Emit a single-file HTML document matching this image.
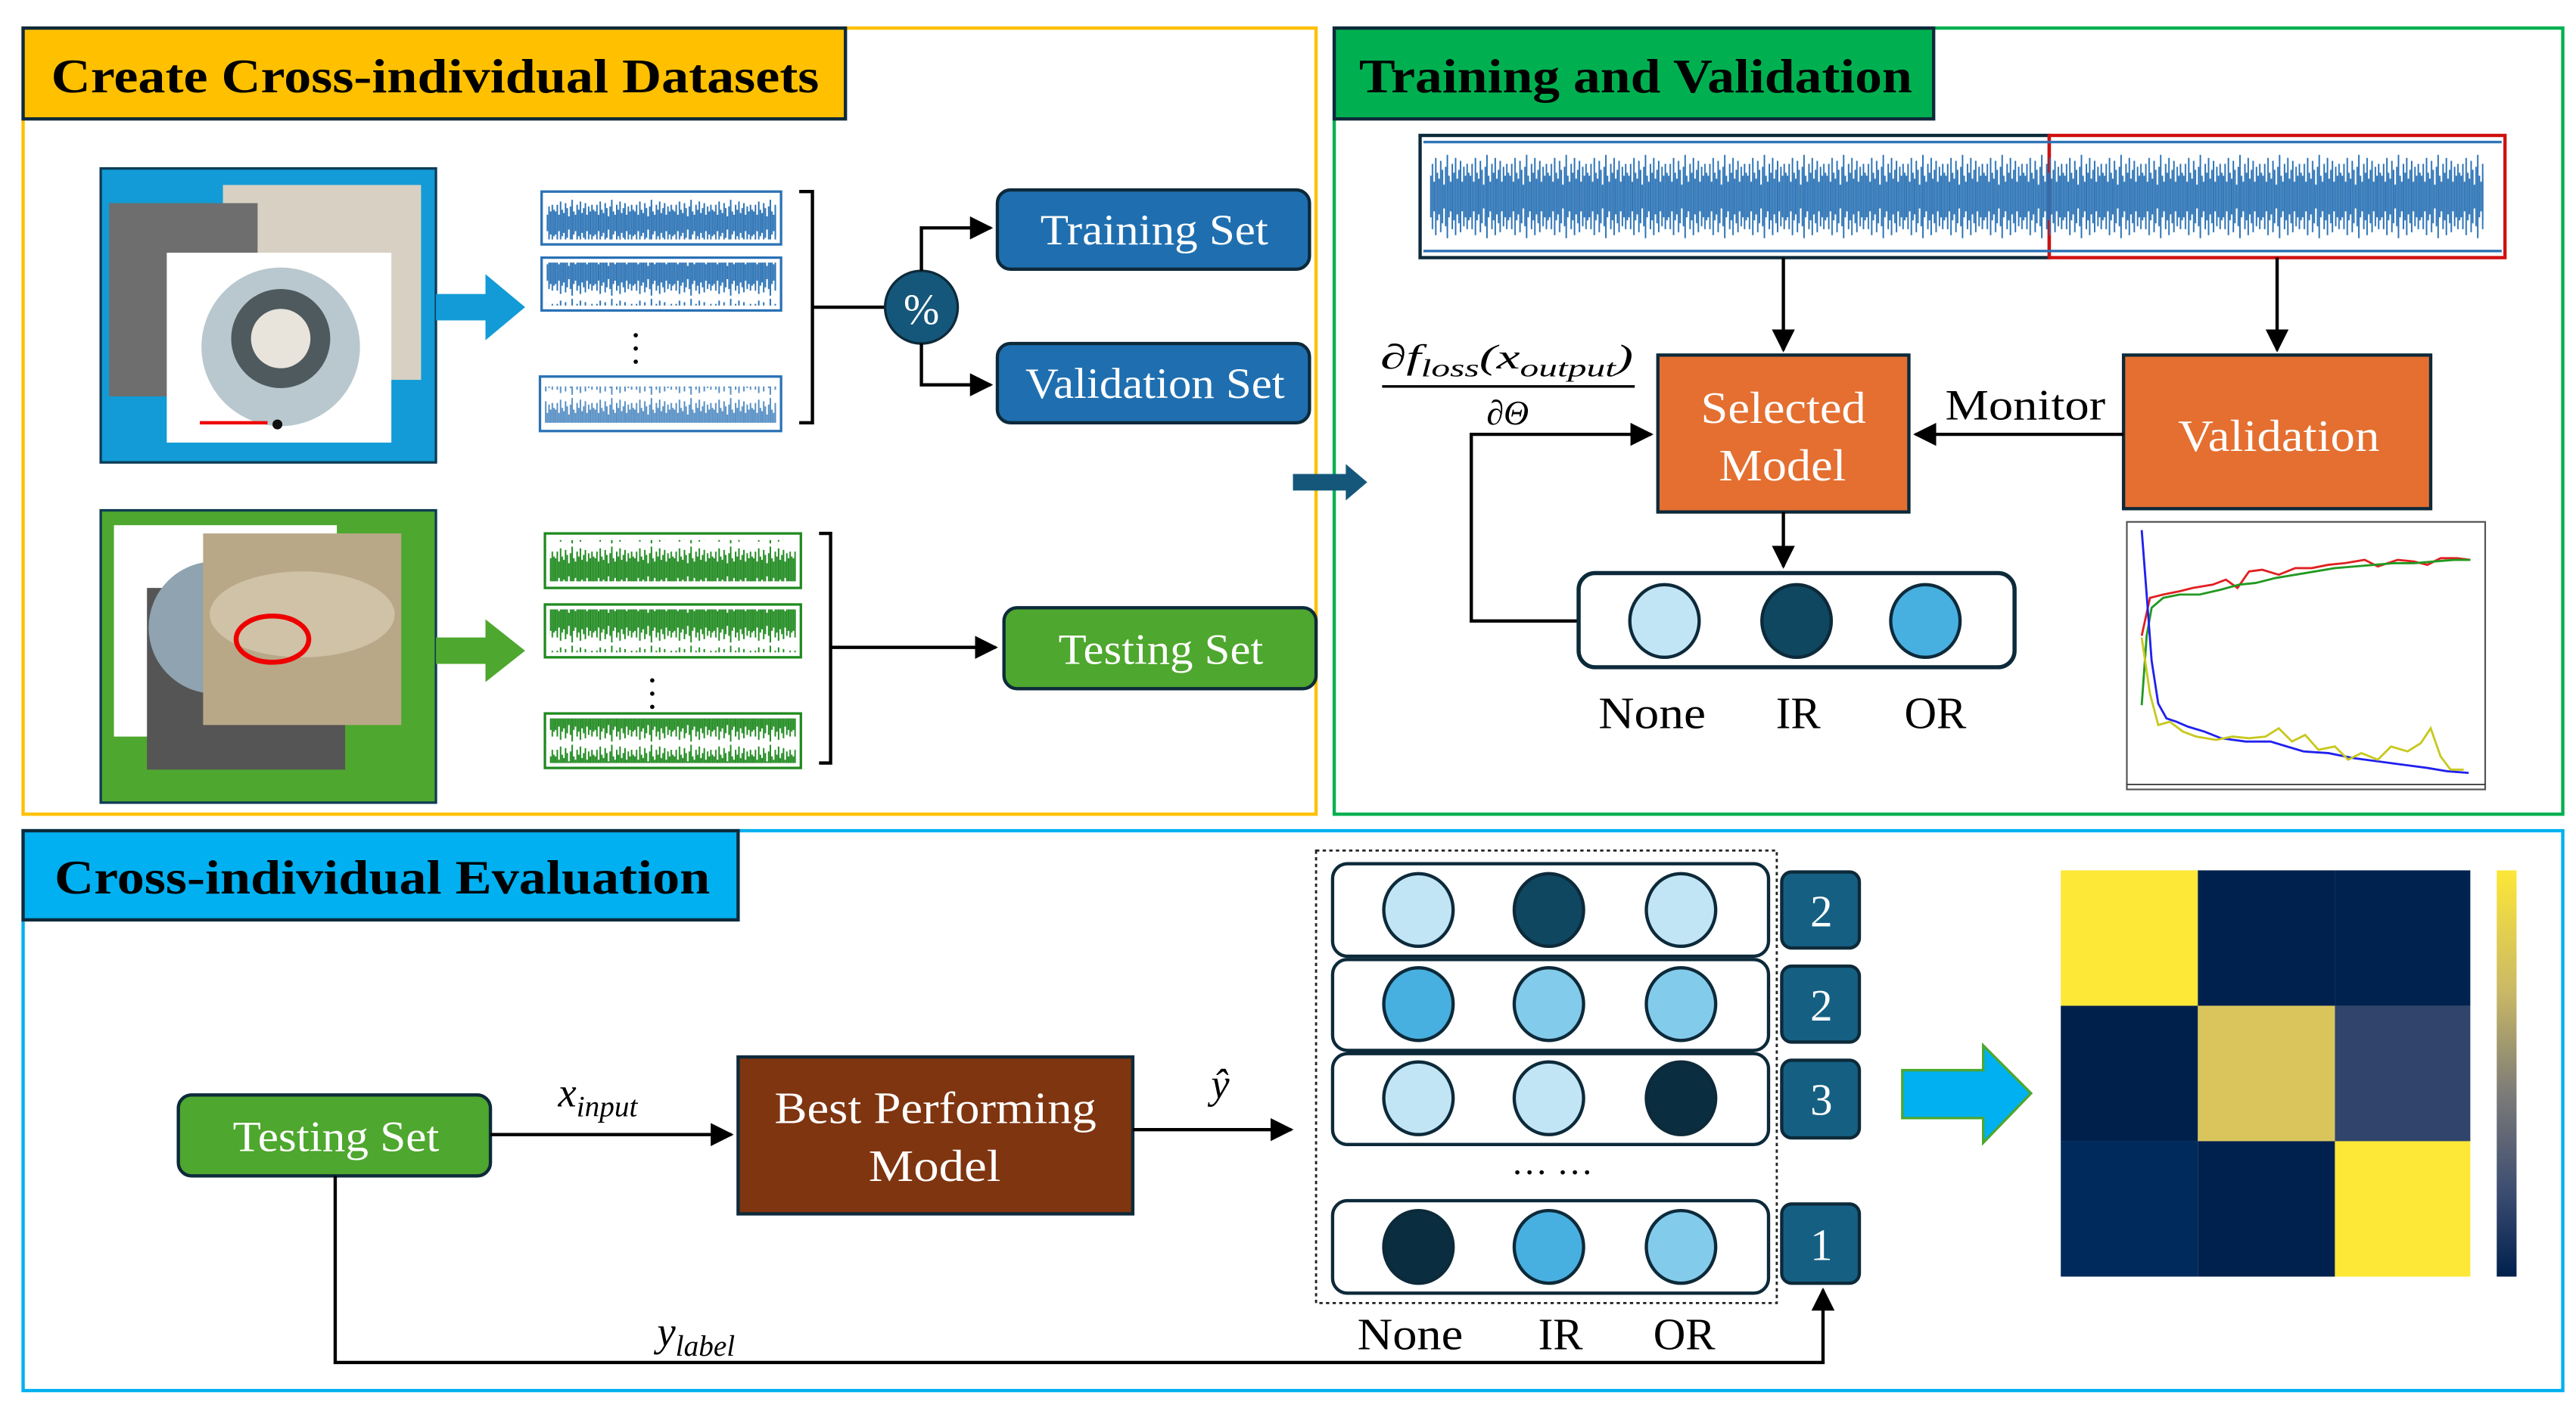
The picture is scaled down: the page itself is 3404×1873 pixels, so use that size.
<!DOCTYPE html>
<html><head><meta charset="utf-8"><style>
html,body{margin:0;padding:0;background:#fff;}
svg{display:block;}
text{font-family:"Liberation Serif","Times New Roman","DejaVu Serif",serif;}
</style></head><body>
<svg width="3404" height="1873" viewBox="0 0 1560 858" preserveAspectRatio="none" xmlns="http://www.w3.org/2000/svg" font-family="Liberation Serif, serif">
<defs>
<pattern id="wb" width="24" height="30" patternUnits="userSpaceOnUse">
<path d="M0.5 8V22M1.5 4V26M2.5 10V20M3.5 2V28M4.5 7V23M5.5 9V21M6.5 3V27M7.5 6V24M8.5 11V19M9.5 5V25M10.5 1V29M11.5 8V22M12.5 10V20M13.5 4V26M14.5 7V23M15.5 2V28M16.5 9V21M17.5 6V24M18.5 3V27M19.5 10V20M20.5 5V25M21.5 8V22M22.5 4V26M23.5 7V23" stroke="#2a72b5" stroke-width="0.9"/>
</pattern>
<pattern id="wg" width="24" height="30" patternUnits="userSpaceOnUse">
<path d="M0.5 8V22M1.5 4V26M2.5 10V20M3.5 2V28M4.5 7V23M5.5 9V21M6.5 3V27M7.5 6V24M8.5 11V19M9.5 5V25M10.5 1V29M11.5 8V22M12.5 10V20M13.5 4V26M14.5 7V23M15.5 2V28M16.5 9V21M17.5 6V24M18.5 3V27M19.5 10V20M20.5 5V25M21.5 8V22M22.5 4V26M23.5 7V23" stroke="#1e8a1e" stroke-width="0.9"/>
</pattern>
<linearGradient id="cb" x1="0" y1="0" x2="0" y2="1">
<stop offset="0" stop-color="#fde737"/><stop offset="0.3" stop-color="#c9b866"/><stop offset="0.55" stop-color="#7c7b78"/><stop offset="0.8" stop-color="#3a4b70"/><stop offset="1" stop-color="#00204d"/>
</linearGradient>
<marker id="ah" viewBox="0 0 10 10" refX="9" refY="5" markerWidth="7" markerHeight="7" orient="auto"><path d="M0 0L10 5L0 10z" fill="#000"/></marker>
</defs>

<rect x="14" y="17" width="783" height="476" fill="none" stroke="#ffc000" stroke-width="2"/>
<rect x="808" y="17" width="744" height="476" fill="none" stroke="#00b050" stroke-width="2"/>
<rect x="14" y="503" width="1538" height="339" fill="none" stroke="#00b0f0" stroke-width="2"/>

<rect x="14" y="17" width="498" height="55" fill="#ffc000" stroke="#0d2a3a" stroke-width="2"/>
<text x="31" y="56" font-size="29" font-weight="bold" textLength="465" lengthAdjust="spacingAndGlyphs">Create Cross-individual Datasets</text>
<rect x="808" y="17" width="363" height="55" fill="#00b050" stroke="#0d2a3a" stroke-width="2"/>
<text x="823" y="56" font-size="29" font-weight="bold" textLength="335" lengthAdjust="spacingAndGlyphs">Training and Validation</text>
<rect x="14" y="503" width="433" height="54" fill="#00b0f0" stroke="#0d2a3a" stroke-width="2"/>
<text x="33" y="541" font-size="29" font-weight="bold" textLength="397" lengthAdjust="spacingAndGlyphs">Cross-individual Evaluation</text>

<rect x="61" y="102" width="203" height="178" fill="#129bd6" stroke="#0d3b55" stroke-width="1.5"/>
<rect x="135" y="112" width="120" height="118" fill="#d8d0c2"/>
<rect x="66" y="123" width="90" height="117" fill="#6e6e6e"/>
<rect x="101" y="153" width="136" height="115" fill="#fff"/>
<circle cx="170" cy="210" r="48" fill="#b9c8cf"/>
<circle cx="170" cy="205" r="30" fill="#4e5a5e"/>
<circle cx="170" cy="205" r="18" fill="#e8e4dc"/>
<path d="M121 256H162" stroke="#e00" stroke-width="2"/>
<circle cx="168" cy="257" r="3" fill="#111"/>
<path d="M264 178H294V166L318 186L294 206V194H264z" fill="#129bd6"/>

<rect x="328" y="116" width="145" height="32" fill="#fff" stroke="#2a72b5" stroke-width="1.5"/><rect x="331" y="119" width="139" height="26" fill="url(#wb)"/>
<rect x="328" y="156" width="145" height="32" fill="#fff" stroke="#2a72b5" stroke-width="1.5"/><rect x="331" y="159" width="139" height="26" fill="url(#wb)"/>
<rect x="327" y="228" width="146" height="33" fill="#fff" stroke="#2a72b5" stroke-width="1.5"/><rect x="330" y="234" width="140" height="22" fill="url(#wb)" opacity="0.8"/>
<circle cx="385" cy="203" r="1.3"/><circle cx="385" cy="211" r="1.3"/><circle cx="385" cy="219" r="1.3"/>
<path d="M484 116H492V256H484M492 186H537" fill="none" stroke="#000" stroke-width="2"/>
<circle cx="558" cy="186" r="22" fill="#14577a" stroke="#0d2a3a" stroke-width="1.5"/>
<text x="558" y="196" font-size="26" fill="#fff" text-anchor="middle">%</text>
<path d="M558 164V138H600" fill="none" stroke="#000" stroke-width="2" marker-end="url(#ah)"/>
<path d="M558 208V233H600" fill="none" stroke="#000" stroke-width="2" marker-end="url(#ah)"/>
<rect x="604" y="115" width="189" height="48" rx="8" fill="#1f6fb0" stroke="#0d2a3a" stroke-width="2"/>
<text x="630" y="148" font-size="26" fill="#fff" textLength="138" lengthAdjust="spacingAndGlyphs">Training Set</text>
<rect x="604" y="208" width="189" height="48" rx="8" fill="#1f6fb0" stroke="#0d2a3a" stroke-width="2"/>
<text x="621" y="241" font-size="26" fill="#fff" textLength="157" lengthAdjust="spacingAndGlyphs">Validation Set</text>

<rect x="61" y="309" width="203" height="177" fill="#4ea72e" stroke="#0d3b55" stroke-width="1.5"/>
<rect x="69" y="318" width="135" height="128" fill="#fff"/>
<rect x="89" y="356" width="120" height="110" fill="#555"/>
<circle cx="130" cy="380" r="40" fill="#8fa3b0"/>
<rect x="123" y="323" width="120" height="116" fill="#b9a888"/>
<ellipse cx="183" cy="372" rx="56" ry="26" fill="#cfc2a7"/>
<ellipse cx="165" cy="387" rx="22" ry="14" fill="none" stroke="#e00" stroke-width="3"/>
<path d="M264 386H294V375L318 394L294 413V402H264z" fill="#4ea72e"/>

<rect x="330" y="323" width="155" height="33" fill="#fff" stroke="#1e8a1e" stroke-width="1.5"/><rect x="333" y="327" width="149" height="25" fill="url(#wg)"/>
<rect x="330" y="366" width="155" height="32" fill="#fff" stroke="#1e8a1e" stroke-width="1.5"/><rect x="333" y="369" width="149" height="26" fill="url(#wg)"/>
<rect x="330" y="432" width="155" height="33" fill="#fff" stroke="#1e8a1e" stroke-width="1.5"/><rect x="333" y="435" width="149" height="27" fill="url(#wg)"/>
<circle cx="395" cy="412" r="1.3"/><circle cx="395" cy="420" r="1.3"/><circle cx="395" cy="428" r="1.3"/>
<path d="M496 323H503V462H496M503 392H603" fill="none" stroke="#000" stroke-width="2" marker-end="url(#ah)"/>
<rect x="608" y="368" width="189" height="49" rx="8" fill="#4ea72e" stroke="#0d2a3a" stroke-width="2"/>
<text x="641" y="402" font-size="26" fill="#fff" textLength="124" lengthAdjust="spacingAndGlyphs">Testing Set</text>

<path d="M783 287H815V281L828 292L815 303V297H783z" fill="#14577a"/>

<rect x="860" y="82" width="381" height="74" fill="#fff" stroke="#0d2a3a" stroke-width="2"/>
<rect x="1241" y="82" width="276" height="74" fill="none" stroke="#d01010" stroke-width="2"/>
<path d="M862 86H1515M862 152H1515" stroke="#2a72b5" stroke-width="1.5"/>
<g transform="translate(866,92) scale(1,1.8)"><rect x="0" y="0" width="638" height="30" fill="url(#wb)"/></g>
<path d="M1080 156V212" stroke="#000" stroke-width="2" marker-end="url(#ah)"/>
<path d="M1379 156V212" stroke="#000" stroke-width="2" marker-end="url(#ah)"/>

<rect x="1004" y="215" width="152" height="95" fill="#e46f30" stroke="#0d2a3a" stroke-width="2"/>
<text x="1030" y="256" font-size="27" fill="#fff" textLength="100" lengthAdjust="spacingAndGlyphs">Selected</text>
<text x="1041" y="291" font-size="27" fill="#fff" textLength="77" lengthAdjust="spacingAndGlyphs">Model</text>
<rect x="1286" y="215" width="186" height="93" fill="#e46f30" stroke="#0d2a3a" stroke-width="2"/>
<text x="1319" y="273" font-size="27" fill="#fff" textLength="122" lengthAdjust="spacingAndGlyphs">Validation</text>
<path d="M1286 263H1160" stroke="#000" stroke-width="2" marker-end="url(#ah)"/>
<text x="1178" y="254" font-size="26" textLength="97" lengthAdjust="spacingAndGlyphs">Monitor</text>

<text x="836" y="223" font-size="21" font-style="italic" textLength="153" lengthAdjust="spacingAndGlyphs">∂f<tspan font-size="15" dy="5">loss</tspan><tspan dy="-5">(x</tspan><tspan font-size="15" dy="5">output</tspan><tspan dy="-5">)</tspan></text>
<path d="M837 234H990" stroke="#000" stroke-width="1.5"/>
<text x="913" y="257" font-size="21" text-anchor="middle" font-style="italic">∂Θ</text>
<path d="M956 376H891V263H1000" fill="none" stroke="#000" stroke-width="2" marker-end="url(#ah)"/>
<path d="M1080 310V343" stroke="#000" stroke-width="2" marker-end="url(#ah)"/>
<rect x="956" y="347" width="264" height="57" rx="10" fill="#fff" stroke="#0d2a3a" stroke-width="2.5"/>
<ellipse cx="1008" cy="376" rx="21" ry="22" fill="#c1e5f5" stroke="#0d2a3a" stroke-width="2"/>
<ellipse cx="1088" cy="376" rx="21" ry="22" fill="#0f4761" stroke="#0d2a3a" stroke-width="2"/>
<ellipse cx="1166" cy="376" rx="21" ry="22" fill="#47b0e0" stroke="#0d2a3a" stroke-width="2"/>
<text x="968" y="441" font-size="27" textLength="65" lengthAdjust="spacingAndGlyphs">None</text>
<text x="1089" y="441" font-size="27" text-anchor="middle">IR</text>
<text x="1172" y="441" font-size="27" text-anchor="middle">OR</text>

<rect x="1288" y="316" width="217" height="162" fill="#fff" stroke="#555" stroke-width="1"/>
<path d="M1288 475H1505" stroke="#333" stroke-width="0.8"/>
<polyline fill="none" stroke="#e02020" stroke-width="1.3" points="1297,385 1302,362 1310,360 1320,358 1328,356 1340,354 1348,351 1355,356 1362,346 1370,345 1380,348 1390,344 1400,344 1410,342 1420,341 1432,339 1440,343 1452,339 1462,340 1470,342 1478,338 1488,338 1496,339"/>
<polyline fill="none" stroke="#229922" stroke-width="1.3" points="1297,427 1300,385 1303,368 1310,362 1320,360 1332,360 1345,357 1356,354 1366,353 1378,350 1390,348 1402,346 1414,344 1426,343 1438,342 1450,341 1462,341 1474,340 1486,339 1496,339"/>
<polyline fill="none" stroke="#2020ee" stroke-width="1.3" points="1297,321 1300,360 1303,400 1307,426 1312,435 1318,437 1325,440 1335,443 1345,447 1360,449 1375,449 1385,452 1395,455 1410,456 1425,459 1440,461 1455,463 1470,465 1482,467 1495,468"/>
<polyline fill="none" stroke="#c8c820" stroke-width="1.3" points="1297,386 1302,420 1307,439 1314,437 1322,443 1330,446 1342,448 1352,446 1362,447 1372,446 1380,441 1388,449 1396,445 1404,454 1414,452 1422,460 1430,456 1440,460 1448,452 1458,455 1466,450 1472,441 1478,458 1484,466 1492,466"/>

<rect x="108" y="663" width="189" height="49" rx="8" fill="#4ea72e" stroke="#0d2a3a" stroke-width="2"/>
<text x="141" y="697" font-size="26" fill="#fff" textLength="125" lengthAdjust="spacingAndGlyphs">Testing Set</text>
<path d="M297 687H443" stroke="#000" stroke-width="2" marker-end="url(#ah)"/>
<text x="338" y="670" font-size="25" font-style="italic">x<tspan font-size="18" dy="6">input</tspan></text>
<rect x="447" y="640" width="239" height="95" fill="#7f3510" stroke="#0d2a3a" stroke-width="2"/>
<text x="469" y="680" font-size="27" fill="#fff" textLength="195" lengthAdjust="spacingAndGlyphs">Best Performing</text>
<text x="526" y="715" font-size="27" fill="#fff" textLength="80" lengthAdjust="spacingAndGlyphs">Model</text>
<path d="M686 684H782" stroke="#000" stroke-width="2" marker-end="url(#ah)"/>
<text x="739" y="665" font-size="25" font-style="italic" text-anchor="middle">ŷ</text>

<rect x="797" y="515" width="279" height="274" fill="none" stroke="#222" stroke-width="1.3" stroke-dasharray="2,2"/>
<g stroke="#0d2a3a" stroke-width="2">
<rect x="807" y="523" width="264" height="56" rx="9" fill="#fff"/>
<rect x="807" y="581" width="264" height="55" rx="9" fill="#fff"/>
<rect x="807" y="638" width="264" height="55" rx="9" fill="#fff"/>
<rect x="807" y="727" width="264" height="56" rx="9" fill="#fff"/>
<ellipse cx="859" cy="551" rx="21" ry="22" fill="#c1e5f5"/><ellipse cx="938" cy="551" rx="21" ry="22" fill="#0f4761"/><ellipse cx="1018" cy="551" rx="21" ry="22" fill="#c1e5f5"/>
<ellipse cx="859" cy="608" rx="21" ry="22" fill="#47b0e0"/><ellipse cx="938" cy="608" rx="21" ry="22" fill="#83cbeb"/><ellipse cx="1018" cy="608" rx="21" ry="22" fill="#83cbeb"/>
<ellipse cx="859" cy="665" rx="21" ry="22" fill="#c1e5f5"/><ellipse cx="938" cy="665" rx="21" ry="22" fill="#c1e5f5"/><ellipse cx="1018" cy="665" rx="21" ry="22" fill="#0a2d40"/>
<ellipse cx="859" cy="755" rx="21" ry="22" fill="#0a2d40"/><ellipse cx="938" cy="755" rx="21" ry="22" fill="#47b0e0"/><ellipse cx="1018" cy="755" rx="21" ry="22" fill="#83cbeb"/>
<rect x="1079" y="528" width="47" height="46" rx="6" fill="#156082"/>
<rect x="1079" y="585" width="47" height="46" rx="6" fill="#156082"/>
<rect x="1079" y="642" width="47" height="47" rx="6" fill="#156082"/>
<rect x="1079" y="729" width="47" height="48" rx="6" fill="#156082"/>
</g>
<text x="1103" y="561" font-size="27" fill="#fff" text-anchor="middle">2</text>
<text x="1103" y="618" font-size="27" fill="#fff" text-anchor="middle">2</text>
<text x="1103" y="675" font-size="27" fill="#fff" text-anchor="middle">3</text>
<text x="1103" y="763" font-size="27" fill="#fff" text-anchor="middle">1</text>
<text x="940" y="711" font-size="22" text-anchor="middle">…  …</text>
<text x="822" y="817" font-size="27" textLength="64" lengthAdjust="spacingAndGlyphs">None</text>
<text x="945" y="817" font-size="27" text-anchor="middle">IR</text>
<text x="1020" y="817" font-size="27" text-anchor="middle">OR</text>
<path d="M203 712V825H1104V781" fill="none" stroke="#000" stroke-width="2" marker-end="url(#ah)"/>
<text x="398" y="815" font-size="25" font-style="italic">y<tspan font-size="18" dy="6">label</tspan></text>

<path d="M1152 648H1201V633L1230 662L1201 692V677H1152z" fill="#00b0f0" stroke="#4ea72e" stroke-width="1.5"/>

<rect x="1248" y="527" width="83" height="82" fill="#fde737"/>
<rect x="1331" y="527" width="83" height="82" fill="#00204d"/>
<rect x="1414" y="527" width="82" height="82" fill="#00224e"/>
<rect x="1248" y="609" width="83" height="82" fill="#00204c"/>
<rect x="1331" y="609" width="83" height="82" fill="#dac55d"/>
<rect x="1414" y="609" width="82" height="82" fill="#31446b"/>
<rect x="1248" y="691" width="83" height="82" fill="#002a5c"/>
<rect x="1331" y="691" width="83" height="82" fill="#00204d"/>
<rect x="1414" y="691" width="82" height="82" fill="#fde737"/>
<rect x="1512" y="527" width="12" height="246" fill="url(#cb)"/>
</svg>
</body></html>
